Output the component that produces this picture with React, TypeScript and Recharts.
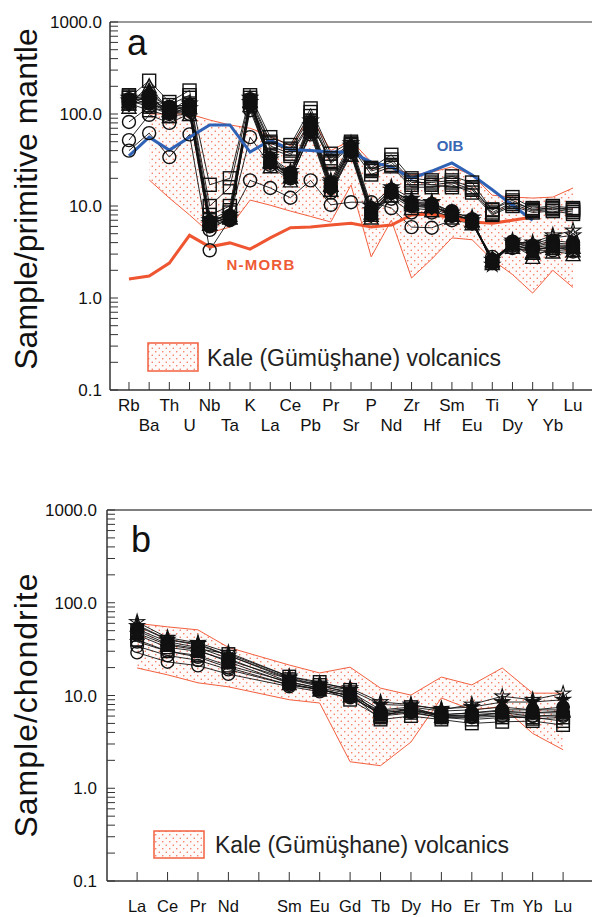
import React from 'react';
import { ComposedChart, Line, Area, XAxis, YAxis, ReferenceLine } from 'recharts';

// ---------- Panel a: primitive-mantle normalised ----------
const PM_ELEMENTS = ['Rb','Ba','Th','U','Nb','Ta','K','La','Ce','Pb','Pr','Sr','P','Nd','Zr','Hf','Sm','Eu','Ti','Dy','Y','Yb','Lu'];

const OIB = [35, 56, 40.5, 56, 76, 76, 38.6, 52, 41, 40, 38.6, 38.6, 30, 26.6, 20, 24, 29.4, 21.7, 15, 10.2, 7, null, null];
const NMORB = [1.61, 1.73, 2.4, 4.8, 3.6, 3.97, 3.4, 4.5, 5.8, 5.9, 6.2, 6.5, 5.9, 6.2, 8.0, 8.2, 7.4, 6.7, 6.5, 7.0, 7.6, null, null];

const PM_FIELD_LOW = [null, 19.2, 12.2, 8.0, 5.1, 5.9, 11.6, 10.2, 8.8, 7.7, 6.7, 16.9, 2.8, 7.0, 1.65, 2.65, 4.5, 4.3, 2.6, 1.8, 1.13, 2.0, 1.3];
const PM_FIELD_HIGH = [null, 100, 100, 100, 86, 76, 70, 58, 45, 95, 40, 52, 30, 26.6, 21.7, 23.4, 26.6, 21.7, 13.1, 12.5, 12.2, 12.5, 15.7];

const PM_SQ_A = [150, 230, 135, 180, 17, 20, 160, 56, 46, 115, 37, 50, 26, 36, 20, 19, 21, 18, 9.0, 12.5, 9.5, 10, 9.5];
const PM_SQ_B = [160, 140, 125, 160, 10, 16, 150, 50, 42, 105, 33, 48, 25, 30, 18, 18, 19, 16, 8.5, 11, 9.2, 9.5, 9.0];
const PM_SQ_C = [140, 120, 105, 150, 8, 10, 140, 48, 40, 95, 30, 46, 24, 28, 17, 17, 18, 15, 8.2, 10.5, 8.8, 9.2, 8.6];
const PM_SQ_D = [130, 110, 95, 125, 6.5, 8.5, 125, 45, 37, 85, 29, 44, 22, 27, 16, 16, 17, 14, 8.0, 10, 8.5, 8.8, 8.2];
const PM_SQ_E = [155, 125, 115, 120, 7, 9, 135, 42, 35, 80, 31, 47, 25, 32, 19, 17, 16, 15.5, 9.2, 11.5, 9.0, 9.6, 9.2];
const PM_CI_A = [40, 62, 34, 60, 3.3, 7.2, 19, 15.7, 12.3, 19, 10.3, 11, 11, 9.5, 5.9, 5.8, 7.0, 6.5, 2.8, 3.5, 3.3, 3.3, 3.2];
const PM_CI_B = [52, 98, 80, 100, 5.5, 7.5, 56, 28, 20, 60, 14, 36, 9, 12, 8.5, 8.5, 7.8, 6.5, 2.6, 3.7, 3.4, 3.5, 3.4];
const PM_CI_C = [82, 120, 100, 110, 6.2, 7.8, 110, 30, 22, 68, 16, 40, 8.5, 14, 10, 10, 8.3, 7, 2.5, 4.0, 3.5, 3.8, 3.7];
const PM_TR_A = [130, 200, 110, 120, 6.5, 7.5, 140, 30, 21, 78, 17, 42, 8, 15, 11, 10, 8, 7, 2.4, 3.8, 2.8, 3.5, 3.3];
const PM_TR_B = [120, 170, 95, 100, 7, 8, 125, 27, 19, 65, 15, 36, 7.5, 13, 9.5, 9, 7.5, 6.5, 2.6, 3.6, 3.1, 3.2, 3.0];
const PM_ST_A = [140, 150, 105, 115, 6.5, 7.5, 150, 32, 22, 75, 18, 45, 9, 15, 11, 11, 8, 7, 2.6, 4.0, 4.0, 4.8, 5.4];
const PM_ST_B = [150, 140, 115, 130, 7, 8, 135, 34, 24, 85, 19, 48, 10, 16, 12, 11, 8.5, 7.5, 2.3, 4.2, 3.8, 4.5, 4.8];
const PM_FC_A = [135, 130, 105, 110, 6, 7, 130, 30, 22, 70, 16, 40, 8, 14, 10, 10, 8, 6.5, 2.5, 4.0, 3.6, 4.0, 3.8];
const PM_FC_B = [145, 160, 120, 125, 6.8, 7.8, 145, 33, 23, 80, 18, 44, 9.5, 15, 11, 10.5, 8.8, 7.2, 2.4, 4.1, 3.7, 4.2, 4.0];
const PM_FD_A = [125, 145, 100, 105, 6.2, 7.2, 120, 29, 20, 62, 15, 38, 7.8, 13.5, 10, 9.5, 7.8, 6.8, 2.7, 3.8, 3.4, 3.6, 3.5];
const PM_FT_A = [138, 180, 112, 118, 6.4, 7.6, 138, 31, 21, 72, 17, 41, 8.5, 14.5, 10.5, 10, 8.2, 7.0, 2.5, 3.9, 3.2, 3.7, 3.6];

// ---------- Panel b: chondrite normalised ----------
const REE_ELEMENTS = ['La','Ce','Pr','Nd','Pm','Sm','Eu','Gd','Tb','Dy','Ho','Er','Tm','Yb','Lu'];
const REE_LABELS = ['La','Ce','Pr','Nd','','Sm','Eu','Gd','Tb','Dy','Ho','Er','Tm','Yb','Lu'];

const REE_FIELD_HIGH = [60, 55, 51, 33, null, 21.3, 17.5, 20.2, 12.0, 10.1, 15.8, 13.0, 19.8, 10.6, 10.6];
const REE_FIELD_LOW = [19.8, 16.7, 13.7, 12.4, null, 9.0, 8.3, 1.93, 1.75, 3.15, 9.4, 7.0, 7.6, 3.9, 2.6];

const REE_CI_A = [29, 23, 21, 17, null, 12.5, 11, 9.5, 6.5, 7, 6, 6, 6.5, 6, 6];
const REE_CI_B = [34, 27, 24, 19, null, 13, 11.5, 10, 6.8, 7.2, 6.2, 6.5, 6.8, 6.5, 6.5];
const REE_CI_C = [38, 30, 26, 20, null, 13, 11.8, 9.8, 6.3, 6.6, 5.8, 5.8, 6, 6, 6.2];
const REE_SQ_A = [45, 33, 30, 24, null, 15, 13, 10.5, 5.5, 6, 5.5, 5, 5.2, 5.3, 4.8];
const REE_SQ_B = [50, 36, 32, 28, null, 16, 14, 11.5, 6, 6.5, 5.8, 5.5, 5.8, 5.8, 5.3];
const REE_SQ_C = [40, 30, 27, 21, null, 14, 12, 9, 5.8, 7.5, 6, 6, 6.2, 5.6, 5.8];
const REE_TR_A = [58, 40, 35, 27, null, 15, 12.5, 11, 7, 7.5, 6.8, 7, 7.5, 7, 7];
const REE_ST_A = [62, 42, 37, 29, null, 16, 13.5, 12, 8.5, 8, 7, 8, 9.8, 9, 10.5];
const REE_ST_B = [56, 40, 36, 27, null, 15.5, 13, 11.5, 8, 7.8, 7.2, 7.5, 8.5, 8.5, 9];
const REE_FC_A = [52, 38, 33, 25, null, 14, 12, 10.5, 6.5, 7, 6.2, 6.5, 7, 7, 7.5];
const REE_FT_A = [47, 35, 31, 23, null, 13.5, 11.5, 10, 6.2, 6.8, 6, 6.2, 6.5, 6.5, 6.8];

const PM_SAMPLES = [
  { key: 'sqA', values: PM_SQ_A, marker: 'square', filled: false },
  { key: 'sqB', values: PM_SQ_B, marker: 'square', filled: false },
  { key: 'sqC', values: PM_SQ_C, marker: 'square', filled: false },
  { key: 'sqD', values: PM_SQ_D, marker: 'square', filled: false },
  { key: 'sqE', values: PM_SQ_E, marker: 'square', filled: false },
  { key: 'ciA', values: PM_CI_A, marker: 'circle', filled: false },
  { key: 'ciB', values: PM_CI_B, marker: 'circle', filled: false },
  { key: 'ciC', values: PM_CI_C, marker: 'circle', filled: false },
  { key: 'trA', values: PM_TR_A, marker: 'triangle', filled: false },
  { key: 'trB', values: PM_TR_B, marker: 'triangle', filled: false },
  { key: 'fcA', values: PM_FC_A, marker: 'circle', filled: true },
  { key: 'fcB', values: PM_FC_B, marker: 'circle', filled: true },
  { key: 'fdA', values: PM_FD_A, marker: 'diamond', filled: true },
  { key: 'ftA', values: PM_FT_A, marker: 'triangle', filled: true },
  { key: 'stA', values: PM_ST_A, marker: 'star', filled: false },
  { key: 'stB', values: PM_ST_B, marker: 'star', filled: false },
];

const REE_SAMPLES = [
  { key: 'sqA', values: REE_SQ_A, marker: 'square', filled: false },
  { key: 'sqB', values: REE_SQ_B, marker: 'square', filled: false },
  { key: 'sqC', values: REE_SQ_C, marker: 'square', filled: false },
  { key: 'ciA', values: REE_CI_A, marker: 'circle', filled: false },
  { key: 'ciB', values: REE_CI_B, marker: 'circle', filled: false },
  { key: 'ciC', values: REE_CI_C, marker: 'circle', filled: false },
  { key: 'trA', values: REE_TR_A, marker: 'triangle', filled: false },
  { key: 'fcA', values: REE_FC_A, marker: 'circle', filled: true },
  { key: 'ftA', values: REE_FT_A, marker: 'triangle', filled: true },
  { key: 'stB', values: REE_ST_B, marker: 'star', filled: true },
  { key: 'stA', values: REE_ST_A, marker: 'star', filled: false },
];

const LOG_TICKS: number[] = [];
for (let d = -1; d <= 2; d++) {
  for (let m = 1; m <= 9; m++) LOG_TICKS.push(Number((m * Math.pow(10, d)).toPrecision(6)));
}
LOG_TICKS.push(1000);

const FONT = '"Liberation Sans", Arial, Helvetica, sans-serif';
const FIELD_RED = '#f2603f';
const DOT_RED = '#f36a4e';

const pmData = PM_ELEMENTS.map((el, i) => {
  const row: any = {
    x: i,
    el,
    oib: OIB[i],
    nmorb: NMORB[i],
    field: PM_FIELD_LOW[i] == null ? null : [PM_FIELD_LOW[i], PM_FIELD_HIGH[i]],
  };
  PM_SAMPLES.forEach((s) => { row[s.key] = s.values[i]; });
  return row;
});

const reeData = REE_ELEMENTS.map((el, i) => {
  const row: any = {
    x: i,
    el,
    field: REE_FIELD_LOW[i] == null ? null : [REE_FIELD_LOW[i], REE_FIELD_HIGH[i]],
  };
  REE_SAMPLES.forEach((s) => { row[s.key] = s.values[i]; });
  return row;
});

function starPath(cx: number, cy: number, R: number, r: number) {
  let d = '';
  for (let k = 0; k < 10; k++) {
    const rad = k % 2 === 0 ? R : r;
    const a = -Math.PI / 2 + (k * Math.PI) / 5;
    d += (k === 0 ? 'M' : 'L') + (cx + rad * Math.cos(a)).toFixed(2) + ',' + (cy + rad * Math.sin(a)).toFixed(2);
  }
  return d + 'Z';
}

function makeDot(marker: string, filled: boolean, size: number) {
  return (props: any) => {
    const { cx, cy, index, dataKey } = props;
    const k = `${dataKey}-${index}`;
    if (cx == null || cy == null || Number.isNaN(cx) || Number.isNaN(cy)) return <g key={k} />;
    const fill = filled ? '#111' : 'none';
    const sw = 1.4;
    const h = size / 2;
    if (marker === 'square') {
      return <rect key={k} x={cx - h} y={cy - h} width={size} height={size} fill={fill} stroke="#111" strokeWidth={sw} />;
    }
    if (marker === 'circle') {
      return <circle key={k} cx={cx} cy={cy} r={h} fill={fill} stroke="#111" strokeWidth={sw} />;
    }
    if (marker === 'triangle') {
      const pts = `${cx},${cy - h - 1} ${cx + h + 0.5},${cy + h} ${cx - h - 0.5},${cy + h}`;
      return <polygon key={k} points={pts} fill={fill} stroke="#111" strokeWidth={sw} />;
    }
    if (marker === 'diamond') {
      const pts = `${cx},${cy - h} ${cx + h},${cy} ${cx},${cy + h} ${cx - h},${cy}`;
      return <polygon key={k} points={pts} fill={fill} stroke="#111" strokeWidth={sw} />;
    }
    return <path key={k} d={starPath(cx, cy, h + 1.5, h * 0.45)} fill={fill} stroke="#111" strokeWidth={1.1} />;
  };
}

const isMajor = (v: number) => Math.abs(Math.log10(v) - Math.round(Math.log10(v))) < 1e-6;

const YTick = (props: any) => {
  const { x, y, payload, gap } = props;
  const v = payload.value;
  return (
    <g>
      <line x1={x} x2={x + 8} y1={y} y2={y} stroke="#333" strokeWidth={1} />
      {isMajor(v) && (
        <text x={x - gap} y={y} dy="0.36em" textAnchor="end" fontSize={17} fontFamily={FONT} fill="#111">
          {v.toFixed(1)}
        </text>
      )}
    </g>
  );
};

const PmXTick = (props: any) => {
  const { x, y, payload } = props;
  const i = Math.round(payload.value);
  const row2 = i % 2 === 1;
  return (
    <g>
      <line x1={x} x2={x} y1={y} y2={y - 8} stroke="#333" strokeWidth={1} />
      <text x={x} y={y + (row2 ? 41 : 21)} textAnchor="middle" fontSize={17} fontFamily={FONT} fill="#111">
        {PM_ELEMENTS[i]}
      </text>
    </g>
  );
};

const ReeXTick = (props: any) => {
  const { x, y, payload } = props;
  const i = Math.round(payload.value);
  return (
    <g>
      <line x1={x} x2={x} y1={y} y2={y - 9} stroke="#333" strokeWidth={1} />
      <text x={x} y={y + 31} textAnchor="middle" fontSize={16.5} fontFamily={FONT} fill="#111">
        {REE_LABELS[i]}
      </text>
    </g>
  );
};

const DotPattern = ({ id }: { id: string }) => (
  <defs>
    <pattern id={id} x="0" y="0" width="7" height="7" patternUnits="userSpaceOnUse">
      <rect x="0" y="0" width="7" height="7" fill="#fffafa" />
      <circle cx="1.75" cy="1.75" r="0.75" fill={DOT_RED} />
      <circle cx="5.25" cy="5.25" r="0.75" fill={DOT_RED} />
    </pattern>
  </defs>
);

const PM_X_TICKS = PM_ELEMENTS.map((_, i) => i);
const REE_X_TICKS = REE_ELEMENTS.map((_, i) => i);

function TopChart() {
  return (
    <ComposedChart width={592} height={450} data={pmData} margin={{ top: 22, right: 0, bottom: 0, left: 0 }}>
      <DotPattern id="dotsA" />
      <XAxis
        type="number"
        dataKey="x"
        domain={[-0.94, 22.94]}
        allowDataOverflow
        ticks={PM_X_TICKS}
        interval={0}
        tickSize={0}
        tickMargin={0}
        height={60}
        tick={<PmXTick />}
        axisLine={{ stroke: '#333', strokeWidth: 1.5 }}
        tickLine={false}
      />
      <YAxis
        type="number"
        scale="log"
        domain={[0.1, 1000]}
        allowDataOverflow
        ticks={LOG_TICKS}
        interval={0}
        tickSize={0}
        tickMargin={0}
        width={110}
        tick={<YTick gap={8} />}
        axisLine={{ stroke: '#333', strokeWidth: 1.5 }}
        tickLine={false}
      />
      <ReferenceLine y={1000} stroke="#777" strokeWidth={1.5} ifOverflow="visible" />
      <Area
        type="linear"
        dataKey="field"
        stroke={FIELD_RED}
        strokeWidth={1}
        fill="url(#dotsA)"
        fillOpacity={1}
        isAnimationActive={false}
        dot={false}
        activeDot={false}
      />
      {PM_SAMPLES.map((s) => (
        <Line
          key={s.key}
          type="linear"
          dataKey={s.key}
          stroke="#111"
          strokeWidth={0.9}
          dot={makeDot(s.marker, s.filled, 13)}
          activeDot={false}
          isAnimationActive={false}
          connectNulls
        />
      ))}
      <Line type="linear" dataKey="nmorb" stroke="#ee5530" strokeWidth={3} dot={false} activeDot={false} isAnimationActive={false} />
      <Line type="linear" dataKey="oib" stroke="#2f62b4" strokeWidth={3} dot={false} activeDot={false} isAnimationActive={false} />
    </ComposedChart>
  );
}

function BottomChart() {
  return (
    <ComposedChart width={592} height={467} data={reeData} margin={{ top: 60, right: 0, bottom: 0, left: 0 }}>
      <DotPattern id="dotsB" />
      <XAxis
        type="number"
        dataKey="x"
        domain={[-0.99, 14.95]}
        allowDataOverflow
        ticks={REE_X_TICKS}
        interval={0}
        tickSize={0}
        tickMargin={0}
        height={36}
        tick={<ReeXTick />}
        axisLine={{ stroke: '#333', strokeWidth: 1.5 }}
        tickLine={false}
      />
      <YAxis
        type="number"
        scale="log"
        domain={[0.1, 1000]}
        allowDataOverflow
        ticks={LOG_TICKS}
        interval={0}
        tickSize={0}
        tickMargin={0}
        width={107}
        tick={<YTick gap={10} />}
        axisLine={{ stroke: '#333', strokeWidth: 1.5 }}
        tickLine={false}
      />
      <ReferenceLine y={1000} stroke="#555" strokeWidth={1.5} ifOverflow="visible" />
      <Area
        type="linear"
        dataKey="field"
        stroke={FIELD_RED}
        strokeWidth={1}
        fill="url(#dotsB)"
        fillOpacity={1}
        isAnimationActive={false}
        dot={false}
        activeDot={false}
        connectNulls
      />
      {REE_SAMPLES.map((s) => (
        <Line
          key={s.key}
          type="linear"
          dataKey={s.key}
          stroke="#111"
          strokeWidth={0.9}
          dot={makeDot(s.marker, s.filled, 12.5)}
          activeDot={false}
          isAnimationActive={false}
          connectNulls
        />
      ))}
    </ComposedChart>
  );
}

function Overlay() {
  return (
    <svg width={592} height={917} style={{ position: 'absolute', left: 0, top: 0, pointerEvents: 'none' }}>
      <DotPattern id="dotsLegend" />
      {/* axis titles */}
      <text x={37} y={199} transform="rotate(-90 37 199)" textAnchor="middle" fontSize={32} fontFamily={FONT} fill="#111">
        Sample/primitive mantle
      </text>
      <text x={37} y={705} transform="rotate(-90 37 705)" textAnchor="middle" fontSize={32} letterSpacing={1} fontFamily={FONT} fill="#111">
        Sample/chondrite
      </text>
      {/* panel letters */}
      <text x={127} y={55} fontSize={36} fontFamily={FONT} fill="#111">a</text>
      <text x={131} y={552} fontSize={36} fontFamily={FONT} fill="#111">b</text>
      {/* reference labels */}
      <text x={450} y={151} textAnchor="middle" fontSize={15} fontWeight="bold" fontFamily={FONT} fill="#3a66b4">OIB</text>
      <text x={261} y={270} textAnchor="middle" fontSize={15} fontWeight="bold" letterSpacing={1.2} fontFamily={FONT} fill="#ee5a35">N-MORB</text>
      {/* legends */}
      <rect x={148} y={343} width={50} height={28} fill="url(#dotsLegend)" stroke={FIELD_RED} strokeWidth={1.5} />
      <text x={207} y={366} fontSize={23} fontFamily={FONT} fill="#222">Kale (Gümüşhane) volcanics</text>
      <rect x={154} y={831} width={50} height={27} fill="url(#dotsLegend)" stroke={FIELD_RED} strokeWidth={1.5} />
      <text x={215} y={853} fontSize={23} fontFamily={FONT} fill="#222">Kale (Gümüşhane) volcanics</text>
    </svg>
  );
}

export default function App() {
  return (
    <div style={{ position: 'absolute', left: 0, top: 0, width: 592, height: 917, background: '#fff', overflow: 'hidden' }}>
      <div style={{ position: 'absolute', left: 0, top: 0 }}>
        <TopChart />
      </div>
      <div style={{ position: 'absolute', left: 0, top: 450 }}>
        <BottomChart />
      </div>
      <Overlay />
    </div>
  );
}
